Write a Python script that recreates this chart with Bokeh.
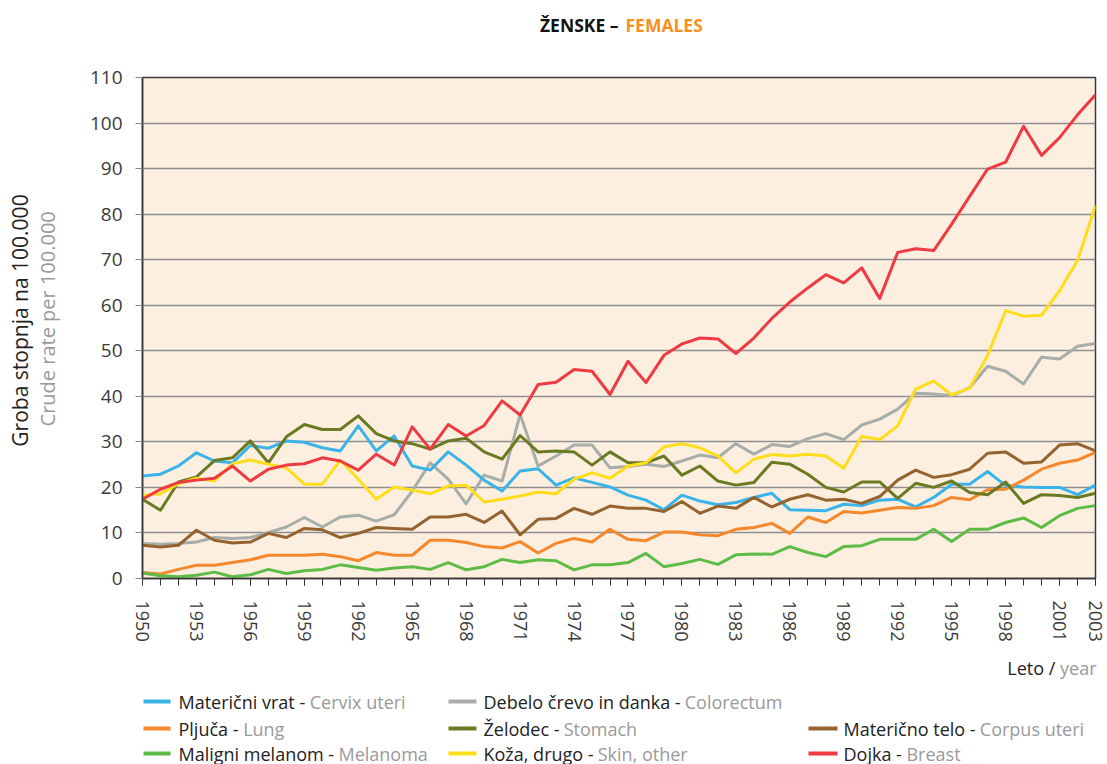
import math
from bokeh.plotting import figure
from bokeh.layouts import column, row
from bokeh.models import Range1d, FixedTicker, ColumnDataSource
from bokeh.embed import file_html
from bokeh.resources import INLINE
from bokeh.core.properties import value

# ---------------- data ----------------
years = list(range(1950, 2004))

cervix = [22.5, 22.9, 24.7, 27.6, 25.8, 25.4, 29.2, 28.6, 30.2, 29.9,
          28.7, 28.0, 33.5, 28.0, 31.3, 24.7, 23.8, 27.8, 24.9, 21.6,
          19.2, 23.6, 24.1, 20.5, 22.1, 21.1, 20.1, 18.3, 17.2, 15.1,
          18.3, 17.0, 16.2, 16.7, 17.8, 18.7, 15.1, 15.0, 14.9, 16.3,
          16.0, 17.2, 17.4, 15.7, 17.8, 20.7, 20.7, 23.5, 20.4, 20.1,
          20.0, 20.0, 18.4, 20.5]

colorectum = [7.7, 7.5, 7.7, 8.0, 9.0, 8.8, 9.0, 10.1, 11.3, 13.4,
              11.3, 13.5, 13.9, 12.6, 14.0, 19.2, 25.4, 21.8, 16.4, 22.7,
              21.4, 36.0, 24.7, 26.9, 29.3, 29.3, 24.3, 24.6, 25.1, 24.6,
              25.8, 27.1, 26.5, 29.6, 27.3, 29.4, 29.0, 30.7, 31.8, 30.5,
              33.7, 35.0, 37.2, 40.7, 40.5, 40.1, 41.9, 46.6, 45.5, 42.7,
              48.6, 48.2, 51.0, 51.6]

lung = [1.3, 1.0, 2.0, 2.9, 2.9, 3.5, 4.1, 5.1, 5.1, 5.1,
        5.3, 4.8, 3.9, 5.7, 5.1, 5.1, 8.4, 8.4, 7.9, 7.0,
        6.7, 8.1, 5.6, 7.7, 8.8, 8.0, 10.8, 8.6, 8.3, 10.2,
        10.2, 9.6, 9.4, 10.8, 11.2, 12.1, 9.9, 13.5, 12.3, 14.7,
        14.4, 15.0, 15.6, 15.4, 16.0, 17.8, 17.3, 19.5, 19.6, 21.6,
        24.0, 25.3, 26.0, 27.7]

stomach = [17.4, 15.0, 21.2, 22.3, 25.9, 26.5, 30.2, 25.4, 31.1, 33.8,
           32.7, 32.7, 35.7, 31.8, 30.2, 29.6, 28.4, 30.2, 30.8, 27.8,
           26.2, 31.4, 27.8, 28.0, 27.8, 24.9, 27.8, 25.4, 25.4, 26.9,
           22.7, 24.7, 21.4, 20.5, 21.1, 25.5, 25.1, 22.9, 20.0, 19.0,
           21.2, 21.2, 17.6, 20.9, 20.0, 21.4, 18.9, 18.4, 21.2, 16.5,
           18.4, 18.2, 17.8, 18.7]

corpus = [7.3, 6.9, 7.3, 10.6, 8.4, 7.8, 8.0, 9.9, 9.0, 11.0,
          10.7, 9.0, 9.9, 11.2, 11.0, 10.8, 13.5, 13.5, 14.1, 12.3,
          14.8, 9.6, 13.0, 13.2, 15.4, 14.1, 15.9, 15.4, 15.4, 14.7,
          16.9, 14.3, 15.9, 15.4, 17.8, 15.7, 17.4, 18.4, 17.2, 17.4,
          16.5, 18.0, 21.6, 23.8, 22.2, 22.8, 24.0, 27.5, 27.8, 25.3,
          25.6, 29.3, 29.6, 28.0]

melanoma = [1.2, 0.6, 0.4, 0.7, 1.4, 0.4, 0.8, 2.0, 1.1, 1.7,
            2.0, 3.0, 2.4, 1.8, 2.3, 2.6, 2.0, 3.5, 1.9, 2.6,
            4.2, 3.5, 4.1, 3.9, 1.9, 3.0, 3.0, 3.5, 5.5, 2.6,
            3.3, 4.2, 3.1, 5.2, 5.4, 5.3, 7.0, 5.7, 4.8, 7.0,
            7.2, 8.6, 8.6, 8.6, 10.8, 8.1, 10.8, 10.8, 12.3, 13.3,
            11.2, 13.8, 15.4, 16.0]

skin = [18.3, 18.6, 20.8, 22.0, 21.4, 25.2, 26.0, 25.1, 24.3, 20.7,
        20.7, 26.0, 21.8, 17.4, 20.1, 19.4, 18.6, 20.3, 20.5, 16.8,
        17.4, 18.1, 19.0, 18.6, 21.8, 23.2, 22.0, 24.7, 25.4, 28.9,
        29.6, 28.7, 26.9, 23.2, 26.2, 27.2, 26.9, 27.3, 26.9, 24.2,
        31.2, 30.5, 33.5, 41.6, 43.4, 40.3, 41.8, 49.0, 58.8, 57.6,
        57.8, 63.2, 69.8, 81.9]

breast = [17.4, 19.6, 21.1, 21.6, 22.0, 24.7, 21.4, 24.0, 24.9, 25.2,
          26.5, 25.8, 23.8, 27.3, 24.9, 33.3, 28.4, 33.8, 31.3, 33.6,
          39.0, 35.9, 42.6, 43.1, 45.9, 45.5, 40.4, 47.7, 43.0, 49.0,
          51.5, 52.8, 52.6, 49.4, 52.8, 57.1, 60.7, 63.8, 66.7, 64.9,
          68.2, 61.5, 71.6, 72.4, 72.0, 77.8, 83.9, 89.9, 91.4, 99.3,
          92.9, 96.8, 101.8, 106.2]

series_keys = ["colorectum", "cervix", "lung", "stomach", "corpus", "melanoma", "skin", "breast"]
series_colors = {
    "cervix": "#3AB4E8", "colorectum": "#A7ADA9", "lung": "#F5882C",
    "stomach": "#6B7A22", "corpus": "#95632F", "melanoma": "#5DBB46",
    "skin": "#FFDD1A", "breast": "#EE3B43",
}
# legend layout: (key, Slovenian, English, column, row)
legend_items = [
    ("cervix", "Materični vrat -", "Cervix uteri", 0, 0),
    ("lung", "Pljuča -", "Lung", 0, 1),
    ("melanoma", "Maligni melanom -", "Melanoma", 0, 2),
    ("colorectum", "Debelo črevo in danka -", "Colorectum", 1, 0),
    ("stomach", "Želodec -", "Stomach", 1, 1),
    ("skin", "Koža, drugo -", "Skin, other", 1, 2),
    ("corpus", "Materično telo -", "Corpus uteri", 2, 1),
    ("breast", "Dojka -", "Breast", 2, 2),
]
title_black = "ŽENSKE –"
title_orange = "FEMALES"
ylabel_slo = "Groba stopnja na 100.000"
ylabel_eng = "Crude rate per 100.000"
xlabel_slo = "Leto /"
xlabel_eng = "year"
major_years = list(range(1950, 2002, 3)) + [2003]
y_ticks = list(range(0, 111, 10))

# ---------------- layout constants (pixels) ----------------
PAGE_W = 1107
TITLE_H = 50
MAIN_H = 602
LEG_H = 764 - TITLE_H - MAIN_H
YLAB_W = 62
FONT = "Open Sans"
GRAY = "#9a9a9a"
DARK = "#222222"
LS = 18  # legend font size

OS = {' ': 532, '-': 659, ',': 502, '/': 745, '.': 545,
      'A': 1296, 'B': 1327, 'C': 1292, 'D': 1493, 'E': 1139, 'F': 1057, 'K': 1257,
      'L': 1073, 'M': 1843, 'P': 1233, 'S': 1104, 'Z': 1155,
      'a': 1139, 'b': 1237, 'c': 975, 'd': 1237, 'e': 1149, 'f': 694, 'g': 1108,
      'h': 1249, 'i': 518, 'j': 518, 'k': 1075, 'l': 518, 'm': 1890, 'n': 1249,
      'o': 1217, 'p': 1237, 'r': 836, 's': 977, 't': 723, 'u': 1249, 'v': 1030,
      'x': 1057, 'y': 1030, 'z': 977}
ALIAS = {'č': 'c', 'ž': 'z', 'Ž': 'Z'}


def tw(s, size):
    return sum(OS.get(ALIAS.get(c, c), 1100) for c in s) / 2048.0 * size


def blank_fig(w, h):
    f = figure(width=w, height=h, output_backend="svg", toolbar_location=None,
               x_range=Range1d(0, w), y_range=Range1d(0, h),
               x_axis_type=None, y_axis_type=None,
               min_border_left=0, min_border_right=0, min_border_top=0, min_border_bottom=0)
    f.xgrid.visible = False
    f.ygrid.visible = False
    f.outline_line_color = None
    f.background_fill_color = "white"
    f.border_fill_color = "white"
    return f


def put_text(f, x, y, txt, color, size, align="left", bold=False, angle=0.0):
    f.text(x=[x], y=[f.height - y], text=[txt], text_color=color,
           text_font=value(FONT), text_font_size=value(f"{size}px"),
           text_font_style="bold" if bold else "normal",
           text_align=align, text_baseline="middle", angle=angle)


# ---------------- title ----------------
tf = blank_fig(PAGE_W, TITLE_H)
put_text(tf, 618, 24, title_black, "#111111", 17.5, align="right", bold=True)
put_text(tf, 625, 24, title_orange, "#F7901E", 17.5, align="left", bold=True)

# ---------------- y axis titles ----------------
yf = blank_fig(YLAB_W, MAIN_H)
put_text(yf, 19, 292, ylabel_slo, DARK, 21, align="center", angle=math.pi / 2)
put_text(yf, 47, 290, ylabel_eng, GRAY, 20, align="center", angle=math.pi / 2)

# ---------------- main plot ----------------
MW = PAGE_W - YLAB_W
FL = 142 - YLAB_W      # frame left inside main fig
FR = PAGE_W - 1095     # right border
FT = 27                # top border
FB = MAIN_H - FT - 501 # bottom border

p = figure(width=MW, height=MAIN_H, output_backend="svg", toolbar_location=None,
           x_range=Range1d(1950, 2003), y_range=Range1d(0, 110),
           min_border_left=FL, min_border_right=FR,
           min_border_top=FT, min_border_bottom=FB)

p.background_fill_color = "#FDEFE0"
p.border_fill_color = "white"
p.outline_line_color = "#3a3a3a"
p.outline_line_width = 1.5

p.xgrid.grid_line_color = None
p.ygrid.grid_line_color = "#8f8f8f"
p.ygrid.grid_line_width = 1.5
p.ygrid.ticker = FixedTicker(ticks=y_ticks)

p.xaxis.ticker = FixedTicker(ticks=major_years, minor_ticks=years)
p.xaxis.major_label_orientation = "vertical"
p.xaxis.major_tick_out = 7
p.xaxis.major_tick_in = 0
p.xaxis.minor_tick_out = 7
p.xaxis.minor_tick_in = 0
p.xaxis.major_label_standoff = 15
p.xaxis.axis_line_color = "#333333"
p.xaxis.axis_line_width = 1.5
p.xaxis.major_tick_line_color = "#333333"
p.xaxis.minor_tick_line_color = "#333333"

p.yaxis.ticker = FixedTicker(ticks=y_ticks)
p.yaxis.major_tick_out = 7
p.yaxis.major_tick_in = 0
p.yaxis.minor_tick_line_color = None
p.yaxis.major_label_standoff = 13
p.yaxis.axis_line_color = "#333333"
p.yaxis.axis_line_width = 1.5
p.yaxis.major_tick_line_color = "#888888"

for ax in (p.xaxis, p.yaxis):
    ax.major_label_text_font = FONT
    ax.major_label_text_font_size = "18px"
    ax.major_label_text_color = "#3a3a3a"
p.yaxis.major_label_text_font_size = "19px"

src = ColumnDataSource(dict(year=years, cervix=cervix, colorectum=colorectum, lung=lung,
                            stomach=stomach, corpus=corpus, melanoma=melanoma,
                            skin=skin, breast=breast))
for key in series_keys:
    p.line(x="year", y=key, source=src, line_width=3, line_color=series_colors[key],
           line_join="round")

# ---------------- legend + x axis title ----------------
lf = blank_fig(PAGE_W, LEG_H)
xr = 1096
put_text(lf, xr, 15, xlabel_eng, GRAY, LS, align="right")
put_text(lf, xr - tw(xlabel_eng + " ", LS), 15, xlabel_slo, DARK, LS, align="right")

col_swatch = [(143, 170), (448, 476), (808, 837)]
col_text = [178, 483, 843]
row_y = [49, 76, 101]
for key, slo, eng, c, r in legend_items:
    yc = lf.height - row_y[r]
    x0, x1 = col_swatch[c]
    lf.line(x=[x0, x1], y=[yc, yc], line_color=series_colors[key], line_width=4)
    tx = col_text[c]
    put_text(lf, tx, row_y[r], slo, DARK, LS)
    put_text(lf, tx + tw(slo + " ", LS), row_y[r], eng, GRAY, LS)

layout = column(tf, row(yf, p, spacing=0), lf, spacing=0)
open("out.html", "w").write(file_html(layout, INLINE))
